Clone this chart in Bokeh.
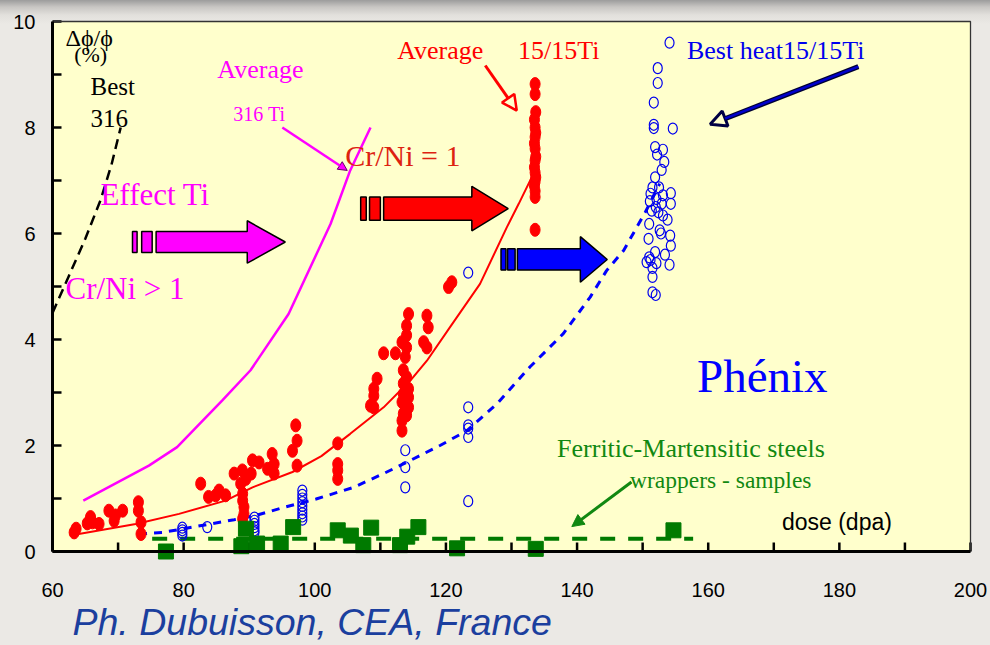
from bokeh.plotting import figure
from bokeh.models import Range1d, FixedTicker, Label, Arrow, NormalHead, BoxAnnotation
from bokeh.embed import file_html
from bokeh.resources import INLINE

# ---------------- data ----------------
# 15/15Ti average heats (filled red)
red_x = [63.3, 63.6, 65.3, 65.8, 66.1, 67.1, 68.6, 69.4, 69.6, 70.7, 73.1, 73.1, 73.5, 73.5,
         82.6, 83.8, 84.9, 85.4, 86.4, 87.7, 88.95, 88.7, 89.5, 90.3, 90.5, 91.5, 89.0, 89.0, 89.2, 89.2, 89.0,
         92.8, 93.5, 93.8, 93.8, 97.1, 97.3, 96.6, 97.3,
         103.5, 103.5, 103.5, 103.5, 109.5, 109.0, 109.0, 108.5, 109.0, 110.5, 112.3,
         114.3, 114.0, 114.0, 113.3, 114.0, 113.8, 113.5, 114.0, 113.5, 114.3, 113.5, 114.3, 113.3, 114.3,
         113.5, 114.0, 113.3, 113.3,
         117.1, 117.3, 116.6, 117.1, 120.4, 120.9,
         133.6, 133.6, 133.7, 133.5, 133.6, 133.7, 133.6, 133.5, 133.6, 133.7, 133.6, 133.5, 133.6,
         133.7, 133.6, 133.5, 133.6, 133.6, 133.6]
red_y = [0.36, 0.43, 0.53, 0.65, 0.55, 0.52, 0.77, 0.58, 0.68, 0.77, 0.93, 0.77, 0.55, 0.33,
         1.28, 1.03, 1.06, 1.15, 1.06, 1.47, 1.53, 1.28, 1.37, 1.47, 1.72, 1.68, 1.09, 0.96, 0.84, 0.71, 0.62,
         1.56, 1.84, 1.65, 1.47, 2.38, 2.09, 1.90, 1.62,
         2.04, 1.65, 1.53, 1.37, 3.26, 3.07, 2.94, 2.75, 2.72, 3.74, 3.74,
         4.48, 4.26, 4.08, 3.95, 3.85, 3.67, 3.42, 3.29, 3.17, 3.07, 2.97, 2.91, 2.82, 2.72,
         2.60, 2.57, 2.47, 2.28,
         4.45, 4.23, 3.95, 3.85, 4.99, 5.08,
         8.82, 8.63, 8.29, 8.15, 8.00, 7.90, 7.82, 7.70, 7.60, 7.45, 7.38, 7.25, 7.15,
         7.06, 6.98, 6.90, 6.80, 6.69, 6.07]

# best heat 15/15Ti (open blue)
blue_x = [79.8, 79.8, 79.8, 79.8, 83.6,
          90.8, 90.8, 90.8, 90.8, 90.8, 90.8,
          98.1, 98.1, 98.1, 98.1, 98.1, 98.1, 98.1, 98.1, 98.1,
          113.8, 113.8, 113.8,
          123.4, 123.4, 123.4, 123.4, 123.4, 123.4,
          154.1, 152.3, 152.3, 151.7, 151.7, 151.7, 154.6, 151.9, 153.1, 152.2, 153.3, 152.9, 151.9,
          151.5, 152.5, 154.3, 153.1, 151.2, 152.1, 154.3, 152.9, 151.1, 151.4, 152.4, 152.0, 153.1,
          153.8, 154.2, 154.3, 151.0, 152.6, 150.9, 154.1, 151.0, 151.9, 150.6, 151.2, 152.1, 151.5,
          151.5, 151.5, 152.0, 152.8, 153.4]
blue_y = [0.45, 0.40, 0.35, 0.30, 0.46,
          0.64, 0.58, 0.52, 0.46, 0.40, 0.36,
          1.15, 1.07, 1.00, 0.93, 0.86, 0.79, 0.72, 0.66, 0.60,
          1.91, 1.59, 1.21,
          5.26, 2.72, 2.38, 2.32, 2.16, 0.95,
          9.60, 9.12, 8.84, 8.47, 8.05, 7.99, 7.98, 7.63, 7.58, 7.49, 7.35, 7.20, 7.06,
          6.87, 6.87, 6.76, 6.72, 6.75, 6.65, 6.56, 6.56, 6.61, 6.43, 6.40, 6.50, 6.34,
          6.26, 5.96, 5.77, 6.18, 6.06, 5.90, 5.41, 5.55, 5.65, 5.46, 5.50, 5.44, 5.35,
          5.18, 4.89, 4.84, 6.00, 5.60]

# ferritic-martensitic steels (green squares)
green_x = [77.3, 88.8, 89.5, 91.2, 94.8, 96.7, 103.5, 105.5, 107.4, 108.6, 113.0, 114.1, 115.8,
           121.7, 133.7, 154.7]
green_y = [0.00, 0.10, 0.43, 0.15, 0.15, 0.46, 0.40, 0.30, 0.12, 0.45, 0.12, 0.28, 0.46,
           0.06, 0.05, 0.40]

# trend curves
avg1515_x = [64.0, 72.7, 79.3, 86.4, 90.5, 96.6, 101.0, 105.4, 110.5, 114.6, 117.1, 120.6, 125.2,
             129.3, 131.1, 133.6]
avg1515_y = [0.33, 0.52, 0.71, 0.96, 1.21, 1.50, 1.80, 2.22, 2.72, 3.23, 3.60, 4.23, 5.05,
             6.12, 6.56, 7.19]
avg316ti_x = [64.7, 74.7, 79.0, 85.9, 90.2, 96.0, 102.4, 105.4, 108.5]
avg316ti_y = [0.96, 1.62, 1.97, 2.85, 3.42, 4.48, 6.18, 7.19, 8.00]
best316_x = [60.0, 62.5, 65.0, 67.3, 69.0, 70.4]
best316_y = [4.50, 5.20, 5.90, 6.62, 7.30, 8.00]
bestheat_x = [73.2, 76.8, 81.8, 87.7, 91.0, 95.5, 100.2, 105.9, 110.5, 114.6, 119.1, 123.2,
              127.8, 132.8, 137.9, 142.0, 144.5, 147.1, 150.4, 152.6]
bestheat_y = [0.33, 0.36, 0.47, 0.60, 0.68, 0.84, 0.99, 1.21, 1.47, 1.72, 2.00, 2.28,
              2.79, 3.48, 4.11, 4.80, 5.30, 5.68, 6.40, 6.94]
fm_x = [75.2, 157.7]
fm_y = [0.24, 0.24]

x_ticks = list(range(60, 201, 10))
y_ticks = list(range(0, 11))
X_MIN, X_MAX, Y_MIN, Y_MAX = 60, 200, 0, 10

# ---------------- figure ----------------
BG = "#FFFFCC"
W, H = 990, 645
LEFT, RIGHT, TOP, BOTTOM = 52, 970, 21, 551          # pixel box of the chart area
SX = (RIGHT - LEFT) / (X_MAX - X_MIN)
SY = (BOTTOM - TOP) / (Y_MAX - Y_MIN)
TICK = 9  # px, ticks point into the chart
# the frame covers the whole canvas so that nothing on the axes is cut off
x_range = Range1d(X_MIN - LEFT / SX, X_MAX + (W - RIGHT) / SX)
y_range = Range1d(Y_MIN - (H - BOTTOM) / SY, Y_MAX + TOP / SY)

p = figure(width=W, height=H, x_range=x_range, y_range=y_range,
           output_backend="svg", toolbar_location=None,
           min_border_left=0, min_border_right=0, min_border_top=0, min_border_bottom=0)
p.background_fill_alpha = 0
p.border_fill_alpha = 0
p.styles = {"background": "linear-gradient(to bottom, #9c9c9c 0px, #c8c6c3 7px, #e2e0dc 15px, #ebe9e5 24px, #ebe9e5 100%)"}
p.outline_line_color = None
p.xgrid.visible = False
p.ygrid.visible = False

# yellow chart area
p.add_layout(BoxAnnotation(left=X_MIN, right=X_MAX, bottom=Y_MIN, top=Y_MAX, fill_color=BG, fill_alpha=1,
                           line_color=None, level="underlay"))

for ax in (p.xaxis[0], p.yaxis[0]):
    ax.axis_line_width = 3
    ax.axis_line_color = "black"
    ax.major_tick_in = 0
    ax.major_tick_out = 0
    ax.major_tick_line_color = None
    ax.minor_tick_line_color = None
    ax.major_label_text_font = "Liberation Sans"
    ax.major_label_text_font_size = "20px"
    ax.major_label_text_color = "black"

p.xaxis.fixed_location = Y_MIN
p.xaxis.bounds = (X_MIN, X_MAX)
p.xaxis.ticker = FixedTicker(ticks=x_ticks)
p.xaxis.major_label_overrides = {t: ("" if (t // 10) % 2 else str(t)) for t in x_ticks}
p.xaxis.major_label_standoff = 31
p.yaxis.fixed_location = X_MIN
p.yaxis.bounds = (Y_MIN, Y_MAX)
p.yaxis.ticker = FixedTicker(ticks=y_ticks)
p.yaxis.major_label_overrides = {t: ("" if t % 2 else str(t)) for t in y_ticks}
p.yaxis.major_label_standoff = 17

# tick marks (inside the chart area) at the same tick positions
p.segment(x0=x_ticks, y0=[Y_MIN] * len(x_ticks), x1=x_ticks, y1=[Y_MIN + TICK / SY] * len(x_ticks),
          line_color="black", line_width=2.5)
p.segment(x0=[X_MIN] * len(y_ticks), y0=y_ticks, x1=[X_MIN + TICK / SX] * len(y_ticks), y1=y_ticks,
          line_color="black", line_width=2.5)

# thin frame on top and right
p.line([X_MIN, X_MAX, X_MAX], [Y_MAX, Y_MAX, Y_MIN], line_color="#333333", line_width=1.3)

# curves
p.line(avg316ti_x, avg316ti_y, line_color="#FF00FF", line_width=2.5)
p.line(best316_x, best316_y, line_color="black", line_width=2.5, line_dash="10 6")
p.line(avg1515_x, avg1515_y, line_color="#FF0000", line_width=2)
p.line(bestheat_x, bestheat_y, line_color="#0000FF", line_width=3, line_dash="8 7")
p.line(fm_x, fm_y, line_color="#007A00", line_width=4, line_dash="15 13")

# points
p.ellipse(red_x, red_y, width=10, height=13, width_units="screen", height_units="screen",
          fill_color="#FF0000", line_color="#FF0000")
p.ellipse(blue_x, blue_y, width=9, height=11, width_units="screen", height_units="screen",
          fill_color=None, line_color="#0000EE", line_width=1.2)
p.scatter(green_x, green_y, marker="square", size=15, fill_color="#007A00", line_color="#007A00")


# block arrows
def block_arrow(color, rects, x_body, x_head, x_tip, yc, hs, hh):
    xs, ys = [], []
    for (a, b) in rects:
        xs.append([a, b, b, a])
        ys.append([yc - hs, yc - hs, yc + hs, yc + hs])
    xs.append([x_body, x_head, x_head, x_tip, x_head, x_head, x_body])
    ys.append([yc - hs, yc - hs, yc - hh, yc, yc + hh, yc + hs, yc + hs])
    p.patches(xs, ys, fill_color=color, line_color="black", line_width=1.5)


block_arrow("#FF00FF", [(72.2, 72.9), (73.6, 75.2)], 75.8, 89.7, 95.5, 5.84, 0.20, 0.40)
block_arrow("#FF0000", [(107.0, 107.85), (108.35, 110.0)], 110.5, 123.95, 129.5, 6.47, 0.22, 0.42)
block_arrow("#0000FF", [(128.4, 129.15), (129.4, 130.55)], 130.9, 140.5, 144.6, 5.51, 0.20, 0.43)

# thin arrows
p.add_layout(Arrow(x_start=95.05, y_start=8.0, x_end=104.95, y_end=7.19, line_color="#FF00FF", line_width=2.5,
                   end=NormalHead(size=9, fill_color="#FF00FF", line_color="#660066", line_width=1)))
p.add_layout(Arrow(x_start=126.0, y_start=9.17, x_end=130.8, y_end=8.32, line_color="#FF0000", line_width=3,
                   end=NormalHead(size=15, fill_color=BG, line_color="#FF0000", line_width=2.5)))
p.add_layout(Arrow(x_start=182.9, y_start=9.15, x_end=160.6, y_end=8.07, line_color="#000033", line_width=5,
                   end=None))
p.add_layout(Arrow(x_start=182.9, y_start=9.15, x_end=160.3, y_end=8.06, line_color="#0000CC", line_width=2.5,
                   end=NormalHead(size=16, fill_color=BG, line_color="#000044", line_width=3)))
p.add_layout(Arrow(x_start=148.3, y_start=1.31, x_end=139.2, y_end=0.47, line_color="#118811", line_width=3,
                   end=NormalHead(size=12, fill_color="#118811", line_color="#118811", line_width=1)))

# texts
SERIF = "Liberation Serif"


def lab(x, y, text, color, size, font=SERIF, style="normal"):
    # y is the wanted baseline; the svg text box sits lower by about 0.37 em, so lift it
    p.add_layout(Label(x=x, y=y + 0.37 * size / SY, text=text, text_color=color, text_font=font,
                       text_font_size=f"{size}px", text_font_style=style, text_baseline="alphabetic"))


lab(61.98, 9.53, "Δϕ/ϕ", "black", 24)
lab(63.3, 9.23, "(%)", "black", 22)
lab(65.79, 8.60, "Best", "black", 25)
lab(65.79, 8.00, "316", "black", 25)
lab(85.14, 8.92, "Average", "#FF00FF", 26)
lab(87.58, 8.11, "316 Ti", "#FF00FF", 20)
lab(67.31, 6.52, "Effect Ti", "#FF00FF", 31)
lab(61.98, 4.75, "Cr/Ni > 1", "#FF00FF", 31)
lab(104.65, 7.26, "Cr/Ni = 1", "#DD2211", 30)
lab(112.57, 9.28, "Average", "#FF0000", 26)
lab(131.0, 9.28, "15/15Ti", "#FF0000", 26)
lab(156.76, 9.28, "Best heat15/15Ti", "#0000EE", 26)
lab(158.29, 2.98, "Phénix", "#0000FF", 47)
lab(136.95, 1.77, "Ferritic-Martensitic steels", "#118811", 26)
lab(148.08, 1.19, "wrappers - samples", "#118811", 23.5)
lab(171.24, 0.40, "dose (dpa)", "black", 23, font="Liberation Sans")
lab(63.05, -1.60, "Ph. Dubuisson, CEA, France", "#1B3F9E", 37.5, font="Liberation Sans", style="italic")

open("out.html", "w").write(file_html(p, INLINE))
